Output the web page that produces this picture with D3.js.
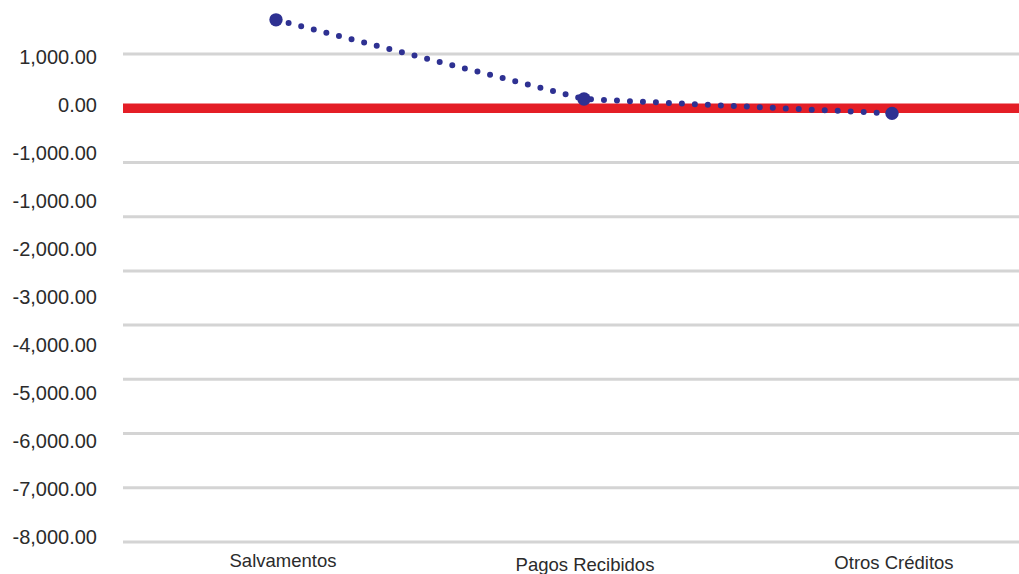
<!DOCTYPE html>
<html>
<head>
<meta charset="utf-8">
<script src="https://cdn.jsdelivr.net/npm/d3@7"></script>
<style>
  html, body { margin: 0; padding: 0; background: #fff; }
  svg { display: block; }
  text { font-family: "Liberation Sans", Arial, sans-serif; fill: #2b2b2b; }
</style>
</head>
<body>
<svg id="chart" width="1019" height="574"></svg>
<script>
// ---- data ----
const categories = ["Salvamentos", "Pagos Recibidos", "Otros Créditos"];
const values = [1630, 170, -95];
const gridValues = [1000, 0, -1000, -2000, -3000, -4000, -5000, -6000, -7000, -8000];
const tickLabels = ["1,000.00", "0.00", "-1,000.00", "-1,000.00", "-2,000.00", "-3,000.00",
                    "-4,000.00", "-5,000.00", "-6,000.00", "-7,000.00", "-8,000.00"];

// ---- layout ----
const plotLeft = 123, plotRight = 1019;
const svg = d3.select("#chart");

const y = d3.scaleLinear().domain([1000, -8000]).range([54, 542]);
const x = d3.scalePoint().domain(categories).range([276, 892]);
const yLab = d3.scalePoint().domain(d3.range(tickLabels.length)).range([57, 537]);

// grid lines
svg.append("g").selectAll("line")
  .data(gridValues.filter(v => v !== 0))
  .join("line")
  .attr("x1", plotLeft).attr("x2", plotRight)
  .attr("y1", d => y(d)).attr("y2", d => y(d))
  .attr("stroke", "#d4d4d4").attr("stroke-width", 3);

// zero line (red)
svg.append("line")
  .attr("x1", plotLeft).attr("x2", plotRight)
  .attr("y1", y(0)).attr("y2", y(0))
  .attr("stroke", "#e41e26").attr("stroke-width", 9.5);

// y labels
svg.append("g").selectAll("text")
  .data(tickLabels)
  .join("text")
  .attr("x", 97)
  .attr("y", (d, i) => yLab(i))
  .attr("text-anchor", "end")
  .attr("dominant-baseline", "central")
  .style("font-size", "20px")
  .text(d => d);

// category labels
const labDx = [7, 1, 2], labDy = [-2, 2, 0];
svg.append("g").selectAll("text")
  .data(categories)
  .join("text")
  .attr("x", (d, i) => x(d) + labDx[i])
  .attr("y", (d, i) => 569 + labDy[i])
  .attr("text-anchor", "middle")
  .style("font-size", "18.5px")
  .text(d => d);

// dotted line
const pts = categories.map((c, i) => [x(c), y(values[i])]);
svg.append("path")
  .attr("d", d3.line()(pts))
  .attr("fill", "none")
  .attr("stroke", "#2e3192")
  .attr("stroke-width", 6)
  .attr("stroke-linecap", "round")
  .attr("stroke-dasharray", "0 13");

// markers
svg.append("g").selectAll("circle")
  .data(pts)
  .join("circle")
  .attr("cx", d => d[0]).attr("cy", d => d[1])
  .attr("r", 6.7)
  .attr("fill", "#2e3192");
</script>
</body>
</html>
